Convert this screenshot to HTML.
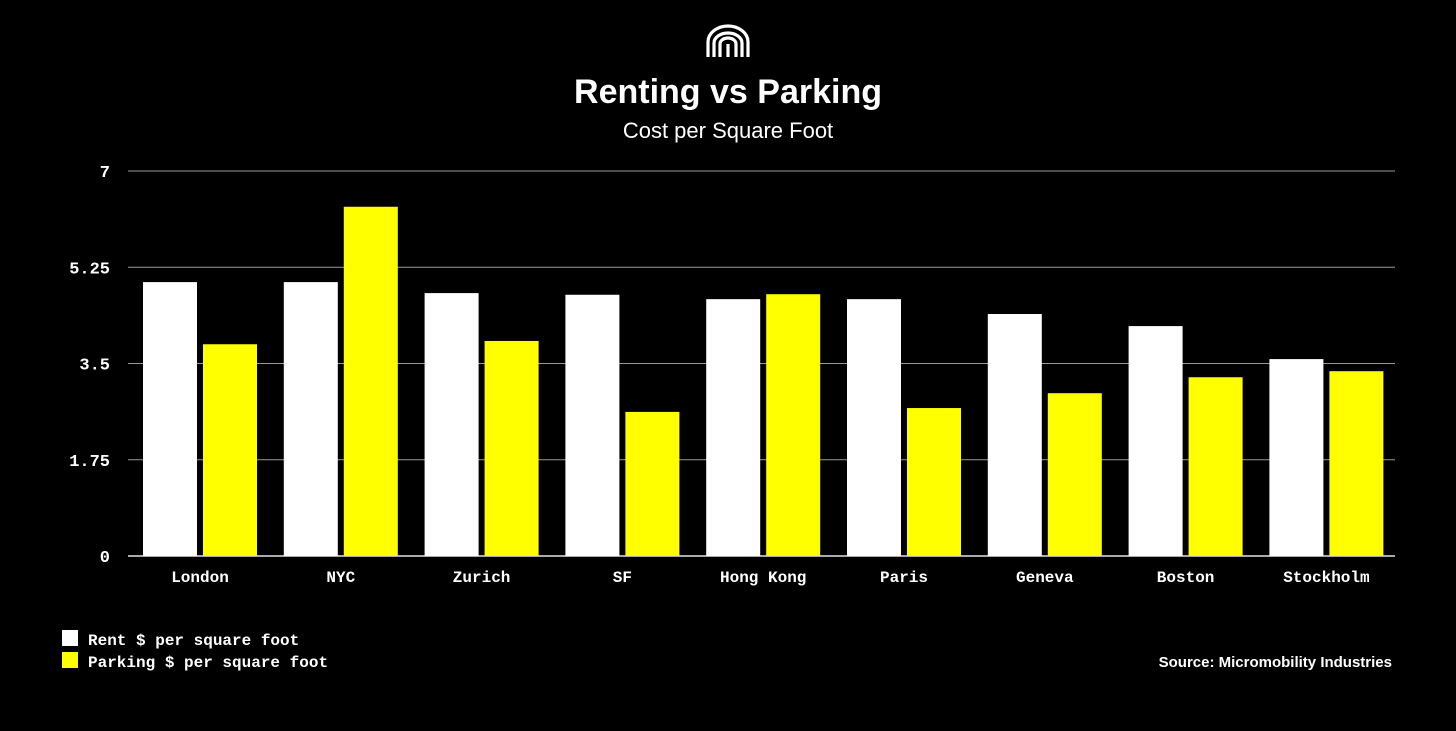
<!DOCTYPE html>
<html><head><meta charset="utf-8"><style>
body{margin:0;background:#000;width:1456px;height:726px;overflow:hidden}
svg text{font-family:"Liberation Sans",sans-serif}
.mono{font-family:"Liberation Mono",monospace;font-weight:bold}
</style></head><body>
<svg id="c" width="1456" height="726">
<g fill="none" stroke="#fff" stroke-width="3.2">
<path d="M708 57 V42 a20 16 0 0 1 40 0 V57"/>
<path d="M714 57 V43 a14 10 0 0 1 28 0 V57"/>
<path d="M720 57 V44 a8 6 0 0 1 16 0 V57"/>
<path d="M728 44 V57"/>
</g>
<text x="728" y="103" text-anchor="middle" fill="#fff" font-size="34" font-weight="bold">Renting vs Parking</text>
<text x="728" y="138" text-anchor="middle" fill="#fff" font-size="22">Cost per Square Foot</text>
<g id="grid"></g><g id="bars"></g><g id="labels"></g>
<rect x="62" y="630" width="16" height="16" fill="#fff"/>
<text class="mono" x="88" y="645" fill="#fff" font-size="16">Rent $ per square foot</text>
<rect x="62" y="652" width="16" height="16" fill="#ffff00"/>
<text class="mono" x="88" y="667" fill="#fff" font-size="16">Parking $ per square foot</text>
<text x="1392" y="667" text-anchor="end" fill="#fff" font-size="15" font-weight="bold">Source: Micromobility Industries</text>
</svg>
<script>
const categories=["London","NYC","Zurich","SF","Hong Kong","Paris","Geneva","Boston","Stockholm"];
const rent=[4.98,4.98,4.78,4.75,4.67,4.67,4.4,4.18,3.58];
const parking=[3.85,6.35,3.91,2.62,4.76,2.69,2.96,3.25,3.36];
const ticks=[0,1.75,3.5,5.25,7];
const tickLabels=["0","1.75","3.5","5.25","7"];
const NS="http://www.w3.org/2000/svg";
const y0=556,yTop=171,yMax=7,x0=128,x1=1395,step=140.8,firstX=143,bw=54,gap=6;
const y=v=>y0-(v/yMax)*(y0-yTop);
function mk(t,a,p){const e=document.createElementNS(NS,t);for(const k in a)e.setAttribute(k,a[k]);p.appendChild(e);return e;}
const G=document.getElementById('grid'),B=document.getElementById('bars'),L=document.getElementById('labels');
ticks.forEach((t,i)=>{
 const l=mk('line',{x1:x0,x2:x1,y1:y(t),y2:y(t),stroke:i==0?'#aaa':'#999','stroke-width':i==0?2:1},G);
 
 
 const tx=mk('text',{x:110,y:y(t)+6,'text-anchor':'end',fill:'#fff','font-size':17,class:'mono'},G);
 tx.textContent=tickLabels[i];
 
 
});
categories.forEach((c,i)=>{
 const gx=firstX+i*step;
 const r=mk('rect',{x:gx,y:y(rent[i]),width:bw,height:y0-y(rent[i]),fill:'#fff'},B);
 
 
 const p=mk('rect',{x:gx+bw+gap,y:y(parking[i]),width:bw,height:y0-y(parking[i]),fill:'#ffff00'},B);
 
 
 const t=mk('text',{x:gx+bw+gap/2,y:582,'text-anchor':'middle',fill:'#fff','font-size':16,class:'mono'},L);
 t.textContent=c;
 
 
});
</script>
</body></html>
